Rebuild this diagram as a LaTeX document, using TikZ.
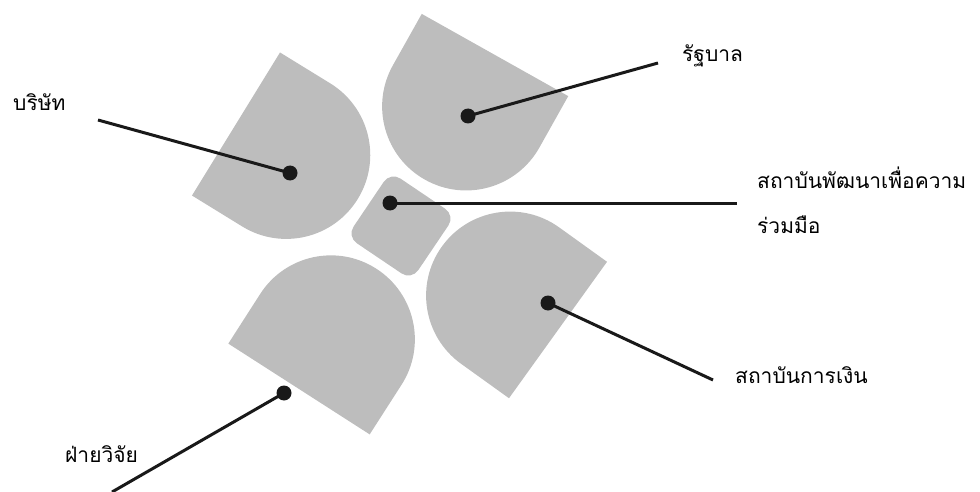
\documentclass[tikz,border=0pt]{standalone}
\usepackage{fontspec}
\newfontfamily\thaifont[Script=Thai]{Loma}
\usepackage{tikz}

\begin{document}
\begin{tikzpicture}[x=1pt,y=1pt,
	petalgray/.style={fill=black!26},
	dot/.style={circle,fill=black!90,inner sep=0pt,minimum size=15pt},
	leader/.style={line width=3pt,black!90},
	thaitext/.style={anchor=base west,inner sep=0pt,font=\thaifont\fontsize{21}{24}\selectfont},
	petal/.pic={\fill[petalgray] (0,-84) -- (59,-84) arc[start angle=-90,end angle=90,radius=84pt] -- (0,84) -- cycle;}]
			
			\useasboundingbox (0,0) rectangle (980,-492);
			
			% four petals and the middle
			\path (236,-124) pic[rotate=-31.6] {petal};
			\path (495,-55) pic[rotate=-119.3] {petal};
			\path (558,-330) pic[rotate=144.3] {petal};
			\path (299,-389) pic[rotate=57.3] {petal};
			\node[petalgray,rounded corners=12pt,minimum size=78pt,inner sep=0pt,rotate=-34] (coop) at (401,-226) {};
			
			\node[dot] (firmdot) at (290,-173) {};
			\node[dot] (govdot) at (468,-116) {};
			\node[dot] (coopdot) at (390,-203) {};
			\node[dot] (bankdot) at (548,-303) {};
			\node[dot] (labdot) at (284,-393) {};
			
			\coordinate (firmend) at (98,-120);
			\coordinate (govend) at (658,-63);
			\coordinate (coopend) at (737,-203);
			\coordinate (bankend) at (713,-380);
			\coordinate (labend) at (112,-492);
			
			\draw[leader] (firmdot.center) -- (firmend);
			\draw[leader] (govdot.center) -- (govend);
			\draw[leader] (coopdot.center) -- (coopend);
			\draw[leader] (bankdot.center) -- (bankend);
			\draw[leader] (labdot.center) -- (labend);
			
			\node[thaitext] (firm) at (13,-111) {บริษัท};
			\node[thaitext] (gov) at (682,-62) {รัฐบาล};
			\node[thaitext] (coop1) at (757,-188) {สถาบันพัฒนาเพื่อความ};
			\node[thaitext] (coop2) at (757,-233) {ร่วมมือ};
			\node[thaitext] (bank) at (735,-383) {สถาบันการเงิน};
			\node[thaitext] (lab) at (65,-462) {ฝ่ายวิจัย};
			
		\end{tikzpicture}
\end{document}
